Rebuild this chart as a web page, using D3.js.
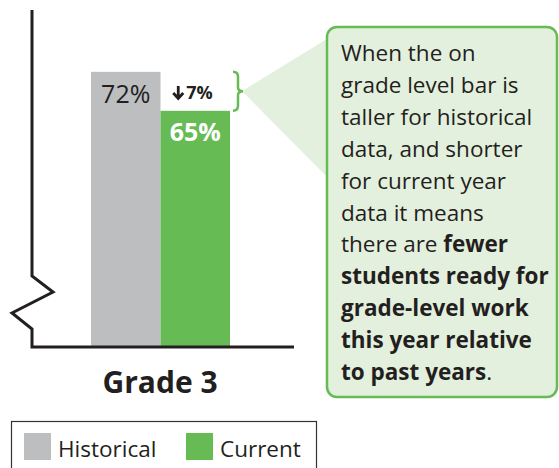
<!DOCTYPE html>
<html>
<head>
<meta charset="utf-8">
<script src="https://cdn.jsdelivr.net/npm/d3@7"></script>
<style>
  body { margin: 0; background: #fff; }
  svg text { font-family: "Open Sans", "Noto Sans", sans-serif; }
</style>
</head>
<body>
<svg id="chart" width="559" height="468"></svg>
<script>
// data
var grade = "Grade 3";
var series = ["Historical", "Current"];
var values = [72, 65];
var colors = ["#bcbec0", "#66bb55"];
var change = "7%";
var note = [
  [["When the on", false]],
  [["grade level bar is", false]],
  [["taller for historical", false]],
  [["data, and shorter", false]],
  [["for current year", false]],
  [["data it means", false]],
  [["there are ", false], ["fewer", true]],
  [["students ready for", true]],
  [["grade-level work", true]],
  [["this year relative", true]],
  [["to past years", true], [".", false]]
];

var svg = d3.select("#chart");
var ink = "#231f20";

// broken axis, so domain doesn't start at 0
var y = d3.scaleLinear().domain([22.6, 83.1]).range([347, 10]);
var x = d3.scaleBand().domain(series).range([91, 230]).padding(0);

// callout wedge (drawn first, behind)
svg.append("path")
  .attr("d", "M242,91 L330,37 L330,180 Z")
  .attr("fill", "#e3f0dd");

// callout box
svg.append("rect")
  .attr("x", 327).attr("y", 27)
  .attr("width", 230).attr("height", 370)
  .attr("rx", 10)
  .attr("fill", "#e3f0dd")
  .attr("stroke", "#66bb55")
  .attr("stroke-width", 2.5);

// bars
svg.selectAll(".bar").data(values).enter().append("rect")
  .attr("class", "bar")
  .attr("x", (d, i) => x(series[i]))
  .attr("y", d => y(d))
  .attr("width", x.bandwidth())
  .attr("height", d => y.range()[0] - y(d))
  .attr("fill", (d, i) => colors[i]);

// axis with break
svg.append("path")
  .attr("d", "M32,10 L32,276 L53,292 L12,313 L32,329 L32,347 L294,347")
  .attr("fill", "none")
  .attr("stroke", ink)
  .attr("stroke-width", 3);

// value labels
svg.append("text")
  .attr("x", x(series[0]) + x.bandwidth() / 2)
  .attr("y", y(values[0]) + 31)
  .attr("text-anchor", "middle")
  .attr("font-size", 25)
  .attr("fill", ink)
  .text(values[0] + "%");

svg.append("text")
  .attr("x", x(series[1]) + x.bandwidth() / 2)
  .attr("y", y(values[1]) + 30)
  .attr("text-anchor", "middle")
  .attr("font-size", 25)
  .attr("font-weight", "bold")
  .attr("fill", "#fff")
  .text(values[1] + "%");

// change label: heavy down arrow + value
var cx = x(series[1]) + x.bandwidth() / 2;
svg.append("path")
  .attr("d", "M" + (cx - 17) + ",86 L" + (cx - 17) + ",98 M" + (cx - 22) + ",93 L" + (cx - 17) + ",98.5 L" + (cx - 12) + ",93")
  .attr("fill", "none")
  .attr("stroke", ink)
  .attr("stroke-width", 2.8);
svg.append("text")
  .attr("x", cx - 9)
  .attr("y", 99)
  .attr("font-size", 18)
  .attr("font-weight", "bold")
  .attr("fill", ink)
  .text(change);

// brace between the two bar tops
var t = y(values[0]), b = y(values[1]), m = (t + b) / 2;
svg.append("path")
  .attr("d", "M233," + t + " Q238," + t + " 238," + (t + 5) +
             " L238," + (m - 4) + " Q238," + m + " 243," + m +
             " Q238," + m + " 238," + (m + 4) +
             " L238," + (b - 5) + " Q238," + b + " 233," + b)
  .attr("fill", "none")
  .attr("stroke", "#66bb55")
  .attr("stroke-width", 2.5);

// category label
svg.append("text")
  .attr("x", 160).attr("y", 393)
  .attr("text-anchor", "middle")
  .attr("font-size", 30)
  .attr("font-weight", "bold")
  .attr("fill", ink)
  .text(grade);

// note text
var nt = svg.append("g");
note.forEach(function(line, i) {
  var txt = nt.append("text")
    .attr("x", 341)
    .attr("y", 61 + i * 31.9)
    .attr("font-size", 22.5)
    .attr("fill", ink);
  line.forEach(function(p) {
    txt.append("tspan")
      .attr("font-weight", p[1] ? "bold" : "normal")
      .text(p[0]);
  });
});

// legend
svg.append("rect")
  .attr("x", 11.5).attr("y", 421.5)
  .attr("width", 305).attr("height", 60)
  .attr("fill", "none")
  .attr("stroke", "#333")
  .attr("stroke-width", 1.2);

var lx = [24, 186];
series.forEach(function(s, i) {
  svg.append("rect")
    .attr("x", lx[i]).attr("y", 433)
    .attr("width", 27).attr("height", 27)
    .attr("fill", colors[i]);
  svg.append("text")
    .attr("x", lx[i] + 34).attr("y", 457)
    .attr("font-size", 22.5)
    .attr("fill", ink)
    .text(s);
});
</script>
</body>
</html>
